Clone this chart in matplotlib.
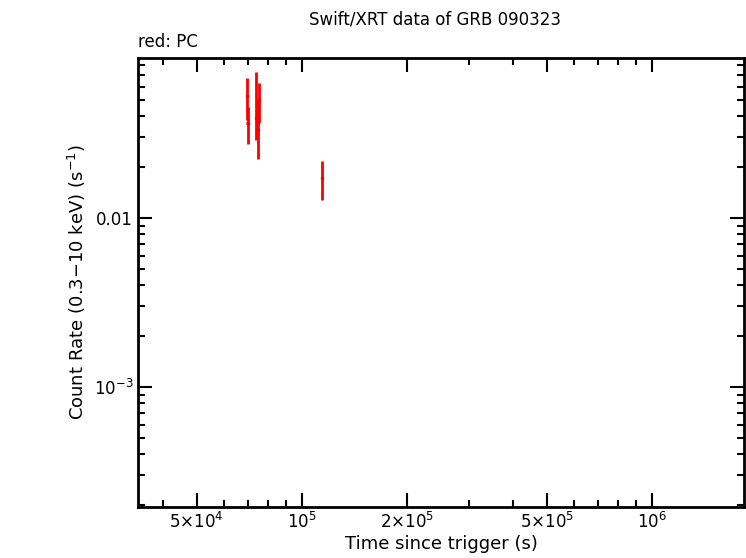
import matplotlib
matplotlib.use("Agg")
import matplotlib.pyplot as plt
import numpy as np
from matplotlib.ticker import FixedLocator, LogLocator, NullFormatter

t = [69600, 70000, 73900, 75300, 74900, 114000]
t_err = [600, 600, 600, 600, 600, 1000]
rate = [0.0527, 0.0365, 0.0390, 0.0499, 0.0332, 0.0172]
rate_lo = [0.0381, 0.0274, 0.0289, 0.0365, 0.0223, 0.0128]
rate_hi = [0.0673, 0.0454, 0.0731, 0.0628, 0.0499, 0.0218]

fig = plt.figure(figsize=(7.46, 5.58), dpi=100)
ax = fig.add_axes([138/746, 1-507/558, (744-138)/746, (507-58)/558])
ax.set_xscale("log"); ax.set_yscale("log")
yerr = [np.array(rate)-np.array(rate_lo), np.array(rate_hi)-np.array(rate)]
ax.errorbar(t, rate, xerr=t_err, yerr=yerr, fmt="none", ecolor="red", elinewidth=2)
ax.plot(t, rate, "s", color="red", ms=2)
ax.set_xlim(34000, 1.83e6)
ax.set_ylim(1.95e-4, 0.0885)
ax.xaxis.set_major_locator(FixedLocator([5e4, 1e5, 2e5, 5e5, 1e6]))
ax.set_xticklabels([r"$5{\times}10^4$", r"$10^5$", r"$2{\times}10^5$", r"$5{\times}10^5$", r"$10^6$"])
ax.xaxis.set_minor_locator(LogLocator(subs=np.arange(2, 10)))
ax.xaxis.set_minor_formatter(NullFormatter())
ax.yaxis.set_major_locator(FixedLocator([1e-3, 1e-2]))
ax.set_yticklabels([r"$10^{-3}$", "0.01"])
ax.yaxis.set_minor_locator(LogLocator(subs=np.arange(2, 10)))
ax.yaxis.set_minor_formatter(NullFormatter())
ax.tick_params(which="both", direction="in", top=True, right=True, labelsize=12)
ax.tick_params(which="major", length=10, width=1.5)
ax.tick_params(which="minor", length=5, width=1.5)
for s in ax.spines.values():
    s.set_linewidth(2)
ax.set_xlabel("Time since trigger (s)", fontsize=13, labelpad=2)
ax.set_ylabel(r"Count Rate (0.3$-$10 keV) (s$^{-1}$)", fontsize=13)
fig.text(435/746, 1-20/558, "Swift/XRT data of GRB 090323", ha="center", va="center", fontsize=12)
fig.text(138/746, 1-42/558, "red: PC", ha="left", va="center", fontsize=12)
fig.savefig("out.png", dpi=100)
